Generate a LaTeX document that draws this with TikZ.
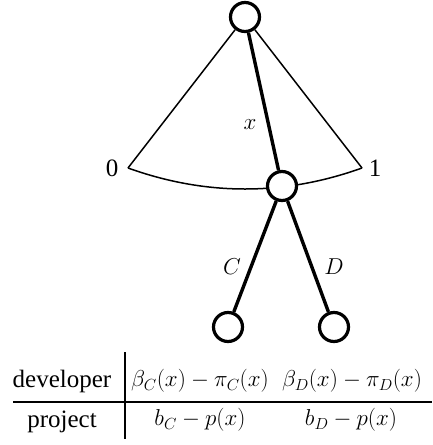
\RequirePackage{fix-cm}
\documentclass[tikz,border=0pt]{standalone}
\usepackage[no-math]{fontspec}
\setmainfont{Liberation Serif}
\begin{document}
\begin{tikzpicture}[x=1pt,y=-1pt,
  vertex/.style={circle,draw,line width=3.2pt,fill=white,minimum size=29pt,inner sep=0pt},
  thickedge/.style={line width=3.4pt},
  thinedge/.style={line width=1.5pt},
  rule/.style={line width=1.6pt},
  lbl/.style={inner sep=0pt,font=\fontsize{25}{29}\selectfont},
  mlbl/.style={inner sep=0pt,font=\fontsize{23}{27}\selectfont}]
\useasboundingbox (0,0) rectangle (432,445);

% end points of the continuum of choices
\coordinate (p0) at (128,168);
\coordinate (p1) at (362,168);

% arc closing the fan; it runs behind the middle node
\draw[thinedge] (p0) .. controls (206,196) and (284,196) .. (p1);

% game tree nodes
\node[vertex] (root) at (245,17) {};
\node[vertex] (mid) at (282,186) {};
\node[vertex] (leafC) at (228,327) {};
\node[vertex] (leafD) at (334,327) {};

% fan of choices x in [0,1]
\draw[thinedge] (p0) -- (root);
\draw[thinedge] (p1) -- (root);
\draw[thickedge] (root) -- (mid);
\draw[thickedge] (mid) -- (leafC);
\draw[thickedge] (mid) -- (leafD);

% labels
\node[lbl] (l0) at (112,168) {0};
\node[lbl] (l1) at (375,168) {1};
\node[mlbl] (lx) at (250,125) {$x$};
\node[mlbl] (lC) at (232,267) {$C$};
\node[mlbl] (lD) at (334,267) {$D$};

% payoff table
\coordinate (vt) at (125,352);
\coordinate (vb) at (125,439);
\coordinate (hl) at (13,402);
\coordinate (hr) at (432,402);
\draw[rule] (vt) -- (vb);
\draw[rule] (hl) -- (hr);
\node[lbl] (dev) at (62,381) {developer};
\node[lbl] (proj) at (62,422) {project};
\node[mlbl] (dC) at (200,381) {$\beta_C(x)-\pi_C(x)$};
\node[mlbl] (dD) at (352,381) {$\beta_D(x)-\pi_D(x)$};
\node[mlbl] (pC) at (200,420) {$b_C-p(x)$};
\node[mlbl] (pD) at (351,420) {$b_D-p(x)$};
\end{tikzpicture}
\end{document}
